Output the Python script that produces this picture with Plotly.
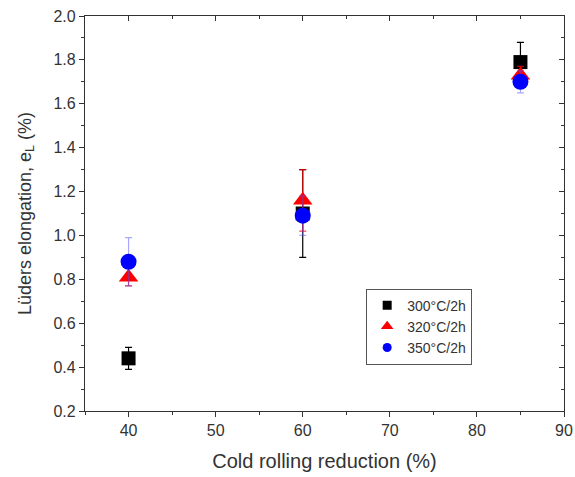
import plotly.graph_objects as go

reduction = [40, 60, 85]

series_names = ["300°C/2h", "320°C/2h", "350°C/2h"]
el_300 = [0.44, 1.10, 1.79]
err_300 = [0.05, 0.20, 0.09]
el_320 = [0.81, 1.16, 1.73]
err_320 = [0.04, 0.14, 0.04]
el_350 = [0.88, 1.09, 1.70]
err_350 = [0.11, 0.09, 0.05]

x_ticks = [40, 50, 60, 70, 80, 90]
y_ticks = [0.2, 0.4, 0.6, 0.8, 1.0, 1.2, 1.4, 1.6, 1.8, 2.0]

styles = [
    dict(symbol="square", size=14, color="black", ecolor="black"),
    dict(symbol="triangle-up", size=17, color="red", ecolor="rgba(255,0,0,0.75)"),
    dict(symbol="circle", size=16, color="blue", ecolor="rgba(80,80,255,0.5)"),
]

fig = go.Figure()
for name, ys, es, st in zip(series_names, [el_300, el_320, el_350], [err_300, err_320, err_350], styles):
    fig.add_trace(go.Scatter(
        x=reduction, y=ys, mode="markers", name=name,
        marker=dict(symbol=st["symbol"], size=st["size"], color=st["color"], line=dict(width=0)),
        error_y=dict(type="data", array=es, visible=True, color=st["ecolor"], thickness=1.2, width=3.5),
        showlegend=False,
    ))
    fig.add_trace(go.Scatter(
        x=[None], y=[None], mode="markers", name=name,
        marker=dict(symbol=st["symbol"], size=9 if st["symbol"] != "triangle-up" else 11, color=st["color"]),
    ))

font_family = "Liberation Sans, Arial, sans-serif"
axis_common = dict(
    showline=True, linecolor="#333", linewidth=1.2, showgrid=False, zeroline=False,
    ticks="outside", ticklen=5, tickwidth=1.2, tickcolor="#333", automargin=False,
    ticklabeloverflow="allow",
    tickfont=dict(family=font_family, size=16, color="#333"),
)
mirror_common = dict(
    showline=True, linecolor="#333", linewidth=1.2, showgrid=False, zeroline=False,
    ticks="inside", ticklen=5, tickwidth=1.2, tickcolor="#333", showticklabels=False,
    automargin=False,
)
fig.update_layout(
    width=575, height=477,
    margin=dict(l=85, r=11, t=16, b=66),
    paper_bgcolor="white", plot_bgcolor="white",
    font=dict(family=font_family, color="#333"),
    xaxis=dict(
        range=[35, 90], tickvals=x_ticks,
        minor=dict(dtick=5, tick0=35, ticks="outside", ticklen=3, tickcolor="#333", tickwidth=1.2),
        title=dict(text="Cold rolling reduction (%)", font=dict(size=20, family=font_family, color="#333"), standoff=15),
        **axis_common,
    ),
    yaxis=dict(
        range=[0.2, 2.0], tickvals=y_ticks, tickformat=".1f",
        minor=dict(dtick=0.1, tick0=0.2, ticks="outside", ticklen=3, tickcolor="#333", tickwidth=1.2),
        title=dict(text="Lüders elongation, e<sub>L</sub> (%)", font=dict(size=18, family=font_family, color="#333"), standoff=17),
        **axis_common,
    ),
    xaxis2=dict(
        overlaying="x", side="top", matches="x", range=[35, 90], tickvals=x_ticks,
        minor=dict(dtick=5, tick0=35, ticks="inside", ticklen=3, tickcolor="#333", tickwidth=1.2),
        **mirror_common,
    ),
    yaxis2=dict(
        overlaying="y", side="right", matches="y", range=[0.2, 2.0], tickvals=y_ticks,
        minor=dict(dtick=0.1, tick0=0.2, ticks="inside", ticklen=3, tickcolor="#333", tickwidth=1.2),
        **mirror_common,
    ),
    legend=dict(
        x=0.587, y=0.31, xanchor="left", yanchor="top",
        bordercolor="#555", borderwidth=1, bgcolor="white",
        font=dict(family=font_family, size=14, color="#333"),
        tracegroupgap=0, itemwidth=30,
    ),
)
# dummy trace to activate the mirrored axes
fig.add_trace(go.Scatter(x=[None], y=[None], xaxis="x2", yaxis="y2", showlegend=False, hoverinfo="skip"))

fig.write_html(
    "out.html",
    config={"displayModeBar": False},
    post_script="document.body.style.margin='0';document.body.style.overflow='hidden';"
                "document.documentElement.style.overflow='hidden';",
)
